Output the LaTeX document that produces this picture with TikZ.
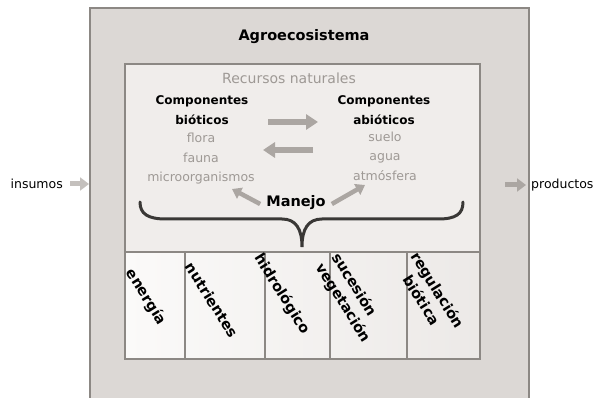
\documentclass[tikz,border=0pt]{standalone}
\usepackage{fontspec}
\setmainfont{DejaVu Sans}
\usetikzlibrary{arrows.meta}
\definecolor{outerfill}{HTML}{DCD8D5}
\definecolor{edgec}{HTML}{8C8884}
\definecolor{innerfill}{HTML}{F0EDEB}
\definecolor{softgray}{HTML}{9E9995}
\definecolor{arrowgray}{HTML}{ABA6A2}
\definecolor{lightarrow}{HTML}{C4C0BD}
\definecolor{colL}{HTML}{FBFAF9}
\definecolor{colR}{HTML}{ECE9E7}
\definecolor{bracec}{HTML}{3A3836}
\begin{document}
\begin{tikzpicture}[x=1pt,y=-1pt,
  lbl/.style={inner sep=0pt, align=center},
  titletext/.style={lbl, font=\bfseries\fontsize{14.5}{16}\selectfont},
  hdr/.style={lbl, font=\bfseries\fontsize{12}{20}\selectfont},
  item/.style={lbl, text=softgray, font=\fontsize{12.5}{19.5}\selectfont},
  coltext/.style={lbl, rotate=-58, font=\bfseries\fontsize{14.5}{19}\selectfont},
  side/.style={lbl, font=\fontsize{12.5}{14}\selectfont},
  bigarrow/.style={draw=arrowgray, line width=6pt, -{Triangle[length=12pt,width=15pt]}},
  midarrow/.style={draw=arrowgray, line width=4.5pt, -{Triangle[length=9pt,width=12pt]}},
  inarrow/.style={draw=lightarrow, line width=5pt, -{Triangle[length=9pt,width=13pt]}},
  boxline/.style={draw=edgec, line width=1.3pt}
]
\useasboundingbox (0,0) rectangle (600,398);
% outer box (open at the bottom, runs off the picture)
\fill[outerfill] (90,8) rectangle (529,398);
\draw[boxline, line width=1.6pt] (90,398) -- (90,8) -- (529,8) -- (529,398);
% inner box
\fill[innerfill] (125,64) rectangle (480,252);
\shade[left color=colL, right color=colR] (125,252) rectangle (480,359);
\draw[boxline] (125,64) rectangle (480,359);
\draw[boxline] (125,252) -- (480,252);
\foreach \xx in {185,265,330,407} \draw[boxline] (\xx,252) -- (\xx,359);

% texts
\node[titletext] (title) at (304,37) {Agroecosistema};
\node[item, font=\fontsize{14}{16}\selectfont] (recursos) at (289,78) {Recursos naturales};
\node[hdr] (bioh) at (202,110) {Componentes\\bióticos};
\node[item] (bioi) at (201,159) {flora\\fauna\\microorganismos};
\node[hdr] (abioh) at (384,110) {Componentes\\abióticos};
\node[item] (abioi) at (385,156) {suelo\\agua\\atmósfera};
\node[lbl, font=\bfseries\fontsize{14.5}{16}\selectfont] (manejo) at (296,203) {Manejo};

\node[side, anchor=east] (insumos) at (63,184) {insumos};
\node[side, anchor=west] (productos) at (531,185) {productos};

% column labels
\node[coltext] (energia) at (146,297) {energía};
\node[coltext] (nutrientes) at (212,300) {nutrientes};
\node[coltext] (hidro) at (282,294) {hidrológico};
\node[coltext, align=left] (sucesion) at (351,298) {sucesión\\vegetación};
\node[coltext, align=center] (regulacion) at (430,295) {regulación\\biótica};

% arrows between components
\coordinate (ra1) at (268,122);
\coordinate (ra2) at (318,122);
\coordinate (la1) at (313,150);
\coordinate (la2) at (263,150);
\draw[bigarrow] (ra1) -- (ra2);
\draw[bigarrow] (la1) -- (la2);

% arrows from Manejo
\coordinate (mb) at (232,189);
\coordinate (ma) at (365,185);
\draw[midarrow] ([xshift=-6pt,yshift=-1pt]manejo.west) -- (mb);
\draw[midarrow] ([xshift=6pt,yshift=-1pt]manejo.east) -- (ma);

% input / output arrows
\coordinate (inbox) at (89,184);
\coordinate (outbox) at (505,185);
\draw[inarrow] ([xshift=7pt]insumos.east) -- (inbox);
\draw[inarrow, draw=arrowgray, shorten >=5pt] (outbox) -- (productos.west);

% brace
\draw[bracec, line width=3pt, line cap=round]
  (140,202) .. controls (140,214) and (148,219) .. (166,219)
  -- (282,219) .. controls (296,219) and (302,229) .. (302,247)
  .. controls (302,229) and (308,219) .. (322,219)
  -- (438,219) .. controls (456,219) and (463,214) .. (463,202);
\end{tikzpicture}
\end{document}
